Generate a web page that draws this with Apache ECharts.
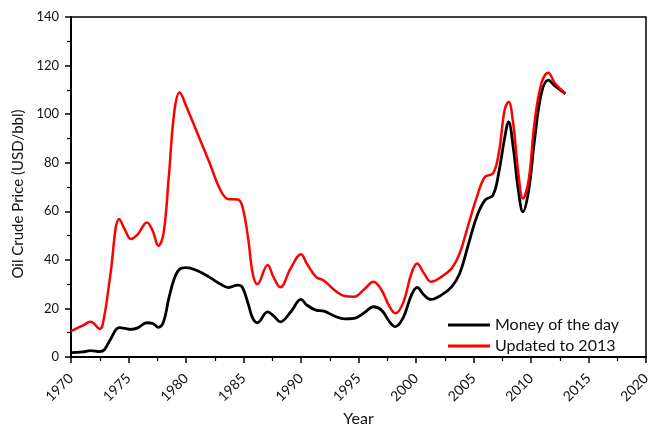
<!DOCTYPE html>
<html>
<head>
<meta charset="utf-8">
<script src="https://cdn.jsdelivr.net/npm/echarts@6/dist/echarts.min.js"></script>
<style>
  html, body { margin: 0; padding: 0; background: #fff; }
  #chart { width: 648px; height: 427px; }
</style>
</head>
<body>
<div id="chart"></div>
<script>
// sample positions (year)
var years = [1970, 1971, 1971.7, 1972.5, 1972.9, 1973.4, 1974.2, 1974.7, 1975.2, 1975.8,
  1976.6, 1977.1, 1977.6, 1978.05, 1978.5, 1979, 1979.45, 1980, 1981, 1982,
  1983, 1983.7, 1984.5, 1984.9, 1985.4, 1985.8, 1986.2, 1987.1, 1987.6, 1988.2,
  1989.1, 1990, 1990.5, 1991.3, 1992, 1992.9, 1993.8, 1994.6, 1995.5, 1996.3,
  1997, 1997.7, 1998.2, 1998.9, 1999.6, 2000.1, 2000.7, 2001.3, 2002.2, 2003.1,
  2003.8, 2004.5, 2005.3, 2006, 2006.7, 2007.2, 2007.7, 2008.05, 2008.45, 2008.9,
  2009.3, 2009.8, 2010.3, 2010.9, 2011.5, 2012.1, 2013];

// Money of the day (USD/bbl)
var moneyOfDay = [1.8, 2.1, 2.6, 2.2, 3, 7, 12.1, 11.8, 11.4, 12,
  14.1, 13.8, 12.2, 14.5, 24, 32.5, 36.2, 36.8, 35.5, 33,
  30, 28.6, 29.6, 28.7, 22, 16, 14.1, 18.6, 17, 14.5,
  18.5, 23.7, 21.4, 19.3, 18.9, 16.9, 15.7, 15.9, 18.2, 20.7,
  19.3, 14.5, 12.5, 16.3, 25.5, 28.7, 25.5, 23.7, 25.5, 28.9,
  34.4, 45.4, 58, 64.6, 66.7, 76, 90, 96.8, 86.5, 68.7,
  59.8, 68.7, 89, 108.5, 114, 111.5, 108.4];

// Updated to 2013 (USD/bbl)
var updated2013 = [10.7, 12.9, 14.5, 11.6, 17, 33, 56.8, 52.3, 48.6, 50.5,
  55.4, 52, 45.8, 51, 74, 101.6, 108.9, 103.5, 92, 80.5,
  68.7, 65, 64.9, 62, 49, 34.4, 30, 37.9, 33, 28.7,
  36.5, 42.3, 38.5, 33, 31.4, 27.6, 25.1, 24.8, 27.9, 31,
  27.6, 20.7, 18, 22.5, 34.4, 38.5, 34.4, 31, 33, 36.5,
  42.7, 53.6, 66, 74.2, 75.6, 84, 101.6, 105.1, 96.2, 75.6,
  65.3, 73, 96.2, 112.6, 117, 112.6, 108.5];

function pairs (xs, ys) {
  var out = []
  for (var i = 0; i < xs.length; i++) {
    out.push([xs[i], ys[i]])
  }
  return out
}

var font = 'Lato, "Open Sans", sans-serif'
var chart = echarts.init(document.getElementById('chart'))

chart.setOption({
  animation: false,
  grid: {
    left: 71, right: 2, top: 17, bottom: 70,
    outerBoundsMode: 'none',
    containLabel: false,
    show: true, borderColor: '#000', borderWidth: 1.5
  },
  legend: {
    orient: 'vertical',
    left: 443, top: 311,
    icon: 'rect',
    itemWidth: 42, itemHeight: 3,
    itemGap: 3,
    textStyle: { fontFamily: font, fontSize: 16, color: '#111', lineHeight: 18 },
    data: ['Money of the day', 'Updated to 2013']
  },
  xAxis: {
    type: 'value',
    min: 1970, max: 2020, interval: 5,
    name: 'Year',
    nameLocation: 'middle',
    nameGap: 54,
    nameTextStyle: { fontFamily: font, fontSize: 16, color: '#111' },
    axisLine: { onZero: false, lineStyle: { color: '#000', width: 2 } },
    axisTick: { inside: false, length: 6, lineStyle: { color: '#000', width: 1.5 } },
    minorTick: { show: true, splitNumber: 2, length: 4, lineStyle: { color: '#000', width: 1.2 } },
    splitLine: { show: false },
    axisLabel: {
      rotate: 45, margin: 19, fontFamily: font, fontSize: 14, color: '#111',
      formatter: function (v) { return String(v) }
    }
  },
  yAxis: {
    type: 'value',
    min: 0, max: 140, interval: 20,
    name: 'Oil Crude Price (USD/bbl)',
    nameLocation: 'middle',
    nameGap: 45,
    nameTextStyle: { fontFamily: font, fontSize: 15, color: '#111', padding: [0, 14, 0, 0] },
    axisLine: { show: true, lineStyle: { color: '#000', width: 2 } },
    axisTick: { show: true, inside: false, length: 6, lineStyle: { color: '#000', width: 1.5 } },
    minorTick: { show: true, splitNumber: 2, length: 4, lineStyle: { color: '#000', width: 1.2 } },
    splitLine: { show: false },
    axisLabel: { margin: 12, fontFamily: font, fontSize: 13, color: '#111' }
  },
  series: [
    {
      name: 'Money of the day',
      type: 'line',
      smooth: 0.4,
      showSymbol: false,
      data: pairs(years, moneyOfDay),
      itemStyle: { color: '#000' },
      lineStyle: { color: '#000', width: 2.8 }
    },
    {
      name: 'Updated to 2013',
      type: 'line',
      smooth: 0.4,
      showSymbol: false,
      data: pairs(years, updated2013),
      itemStyle: { color: '#ff0000' },
      lineStyle: { color: '#ff0000', width: 2.5 }
    }
  ]
})
</script>
</body>
</html>
